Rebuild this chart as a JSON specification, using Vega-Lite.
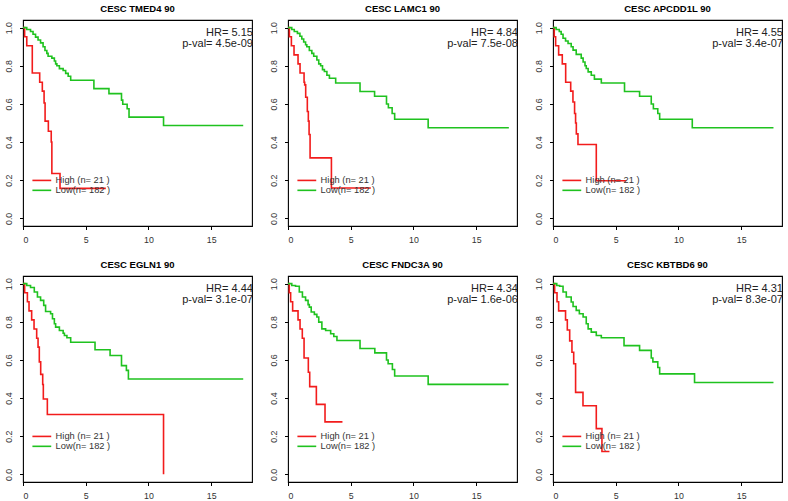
{
  "$schema": "https://vega.github.io/schema/vega-lite/v6.json",
  "padding": {"left": 3, "top": 2, "right": 0, "bottom": 0},
  "bounds": "flush",
  "columns": 3,
  "spacing": {"column": 36, "row": 50},
  "datasets": {
    "km": [
      {"panel": "CESC TMED4 90", "group": "High", "t": 0, "s": 1},
      {"panel": "CESC TMED4 90", "group": "High", "t": 0.13, "s": 0.952},
      {"panel": "CESC TMED4 90", "group": "High", "t": 0.3, "s": 0.905},
      {"panel": "CESC TMED4 90", "group": "High", "t": 0.74, "s": 0.762},
      {"panel": "CESC TMED4 90", "group": "High", "t": 1.33, "s": 0.714},
      {"panel": "CESC TMED4 90", "group": "High", "t": 1.54, "s": 0.667},
      {"panel": "CESC TMED4 90", "group": "High", "t": 1.68, "s": 0.605},
      {"panel": "CESC TMED4 90", "group": "High", "t": 1.76, "s": 0.51},
      {"panel": "CESC TMED4 90", "group": "High", "t": 2.02, "s": 0.457},
      {"panel": "CESC TMED4 90", "group": "High", "t": 2.25, "s": 0.4},
      {"panel": "CESC TMED4 90", "group": "High", "t": 2.3, "s": 0.235},
      {"panel": "CESC TMED4 90", "group": "High", "t": 2.95, "s": 0.157},
      {"panel": "CESC TMED4 90", "group": "High", "t": 6.6, "s": 0.157},
      {"panel": "CESC TMED4 90", "group": "Low", "t": 0, "s": 1},
      {"panel": "CESC TMED4 90", "group": "Low", "t": 0.3, "s": 0.99},
      {"panel": "CESC TMED4 90", "group": "Low", "t": 0.6, "s": 0.98},
      {"panel": "CESC TMED4 90", "group": "Low", "t": 0.8, "s": 0.965},
      {"panel": "CESC TMED4 90", "group": "Low", "t": 1.0, "s": 0.95},
      {"panel": "CESC TMED4 90", "group": "Low", "t": 1.2, "s": 0.935},
      {"panel": "CESC TMED4 90", "group": "Low", "t": 1.4, "s": 0.92},
      {"panel": "CESC TMED4 90", "group": "Low", "t": 1.6, "s": 0.9},
      {"panel": "CESC TMED4 90", "group": "Low", "t": 1.75, "s": 0.88},
      {"panel": "CESC TMED4 90", "group": "Low", "t": 1.9, "s": 0.865},
      {"panel": "CESC TMED4 90", "group": "Low", "t": 2.0, "s": 0.85},
      {"panel": "CESC TMED4 90", "group": "Low", "t": 2.3, "s": 0.84},
      {"panel": "CESC TMED4 90", "group": "Low", "t": 2.5, "s": 0.825},
      {"panel": "CESC TMED4 90", "group": "Low", "t": 2.6, "s": 0.81},
      {"panel": "CESC TMED4 90", "group": "Low", "t": 2.7, "s": 0.8},
      {"panel": "CESC TMED4 90", "group": "Low", "t": 2.9, "s": 0.785},
      {"panel": "CESC TMED4 90", "group": "Low", "t": 3.2, "s": 0.775},
      {"panel": "CESC TMED4 90", "group": "Low", "t": 3.4, "s": 0.76},
      {"panel": "CESC TMED4 90", "group": "Low", "t": 3.6, "s": 0.745},
      {"panel": "CESC TMED4 90", "group": "Low", "t": 3.8, "s": 0.724},
      {"panel": "CESC TMED4 90", "group": "Low", "t": 5.65, "s": 0.68},
      {"panel": "CESC TMED4 90", "group": "Low", "t": 6.85, "s": 0.654},
      {"panel": "CESC TMED4 90", "group": "Low", "t": 7.85, "s": 0.62},
      {"panel": "CESC TMED4 90", "group": "Low", "t": 7.95, "s": 0.598},
      {"panel": "CESC TMED4 90", "group": "Low", "t": 8.3, "s": 0.575},
      {"panel": "CESC TMED4 90", "group": "Low", "t": 8.45, "s": 0.531},
      {"panel": "CESC TMED4 90", "group": "Low", "t": 11.2, "s": 0.487},
      {"panel": "CESC TMED4 90", "group": "Low", "t": 17.55, "s": 0.487},

      {"panel": "CESC LAMC1 90", "group": "High", "t": 0, "s": 1},
      {"panel": "CESC LAMC1 90", "group": "High", "t": 0.11, "s": 0.952},
      {"panel": "CESC LAMC1 90", "group": "High", "t": 0.27, "s": 0.905},
      {"panel": "CESC LAMC1 90", "group": "High", "t": 0.48, "s": 0.857},
      {"panel": "CESC LAMC1 90", "group": "High", "t": 0.8, "s": 0.81},
      {"panel": "CESC LAMC1 90", "group": "High", "t": 0.96, "s": 0.762},
      {"panel": "CESC LAMC1 90", "group": "High", "t": 1.28, "s": 0.714},
      {"panel": "CESC LAMC1 90", "group": "High", "t": 1.33, "s": 0.7},
      {"panel": "CESC LAMC1 90", "group": "High", "t": 1.41, "s": 0.635},
      {"panel": "CESC LAMC1 90", "group": "High", "t": 1.54, "s": 0.56},
      {"panel": "CESC LAMC1 90", "group": "High", "t": 1.62, "s": 0.51},
      {"panel": "CESC LAMC1 90", "group": "High", "t": 1.68, "s": 0.44},
      {"panel": "CESC LAMC1 90", "group": "High", "t": 1.76, "s": 0.317},
      {"panel": "CESC LAMC1 90", "group": "High", "t": 3.46, "s": 0.159},
      {"panel": "CESC LAMC1 90", "group": "High", "t": 6.6, "s": 0.159},
      {"panel": "CESC LAMC1 90", "group": "Low", "t": 0, "s": 1},
      {"panel": "CESC LAMC1 90", "group": "Low", "t": 0.3, "s": 0.99},
      {"panel": "CESC LAMC1 90", "group": "Low", "t": 0.5, "s": 0.98},
      {"panel": "CESC LAMC1 90", "group": "Low", "t": 0.75, "s": 0.97},
      {"panel": "CESC LAMC1 90", "group": "Low", "t": 0.95, "s": 0.955},
      {"panel": "CESC LAMC1 90", "group": "Low", "t": 1.1, "s": 0.94},
      {"panel": "CESC LAMC1 90", "group": "Low", "t": 1.25, "s": 0.925},
      {"panel": "CESC LAMC1 90", "group": "Low", "t": 1.4, "s": 0.91},
      {"panel": "CESC LAMC1 90", "group": "Low", "t": 1.5, "s": 0.9},
      {"panel": "CESC LAMC1 90", "group": "Low", "t": 1.7, "s": 0.88},
      {"panel": "CESC LAMC1 90", "group": "Low", "t": 1.9, "s": 0.865},
      {"panel": "CESC LAMC1 90", "group": "Low", "t": 2.05, "s": 0.85},
      {"panel": "CESC LAMC1 90", "group": "Low", "t": 2.3, "s": 0.83},
      {"panel": "CESC LAMC1 90", "group": "Low", "t": 2.45, "s": 0.81},
      {"panel": "CESC LAMC1 90", "group": "Low", "t": 2.6, "s": 0.8},
      {"panel": "CESC LAMC1 90", "group": "Low", "t": 2.75, "s": 0.78},
      {"panel": "CESC LAMC1 90", "group": "Low", "t": 2.9, "s": 0.77},
      {"panel": "CESC LAMC1 90", "group": "Low", "t": 3.1, "s": 0.75},
      {"panel": "CESC LAMC1 90", "group": "Low", "t": 3.3, "s": 0.735},
      {"panel": "CESC LAMC1 90", "group": "Low", "t": 3.8, "s": 0.71},
      {"panel": "CESC LAMC1 90", "group": "Low", "t": 5.74, "s": 0.665},
      {"panel": "CESC LAMC1 90", "group": "Low", "t": 6.9, "s": 0.64},
      {"panel": "CESC LAMC1 90", "group": "Low", "t": 7.85, "s": 0.6},
      {"panel": "CESC LAMC1 90", "group": "Low", "t": 8.0, "s": 0.58},
      {"panel": "CESC LAMC1 90", "group": "Low", "t": 8.3, "s": 0.55},
      {"panel": "CESC LAMC1 90", "group": "Low", "t": 8.5, "s": 0.52},
      {"panel": "CESC LAMC1 90", "group": "Low", "t": 11.17, "s": 0.475},
      {"panel": "CESC LAMC1 90", "group": "Low", "t": 17.6, "s": 0.475},

      {"panel": "CESC APCDD1L 90", "group": "High", "t": 0, "s": 1},
      {"panel": "CESC APCDD1L 90", "group": "High", "t": 0.1, "s": 0.952},
      {"panel": "CESC APCDD1L 90", "group": "High", "t": 0.21, "s": 0.905},
      {"panel": "CESC APCDD1L 90", "group": "High", "t": 0.45, "s": 0.857},
      {"panel": "CESC APCDD1L 90", "group": "High", "t": 0.74, "s": 0.81},
      {"panel": "CESC APCDD1L 90", "group": "High", "t": 1.01, "s": 0.714},
      {"panel": "CESC APCDD1L 90", "group": "High", "t": 1.41, "s": 0.667},
      {"panel": "CESC APCDD1L 90", "group": "High", "t": 1.59, "s": 0.61},
      {"panel": "CESC APCDD1L 90", "group": "High", "t": 1.72, "s": 0.55},
      {"panel": "CESC APCDD1L 90", "group": "High", "t": 1.8, "s": 0.5},
      {"panel": "CESC APCDD1L 90", "group": "High", "t": 1.86, "s": 0.443},
      {"panel": "CESC APCDD1L 90", "group": "High", "t": 1.99, "s": 0.387},
      {"panel": "CESC APCDD1L 90", "group": "High", "t": 3.45, "s": 0.197},
      {"panel": "CESC APCDD1L 90", "group": "High", "t": 5.84, "s": 0.197},
      {"panel": "CESC APCDD1L 90", "group": "Low", "t": 0, "s": 1},
      {"panel": "CESC APCDD1L 90", "group": "Low", "t": 0.25, "s": 0.99},
      {"panel": "CESC APCDD1L 90", "group": "Low", "t": 0.5, "s": 0.98},
      {"panel": "CESC APCDD1L 90", "group": "Low", "t": 0.65, "s": 0.965},
      {"panel": "CESC APCDD1L 90", "group": "Low", "t": 0.8, "s": 0.944},
      {"panel": "CESC APCDD1L 90", "group": "Low", "t": 1.0, "s": 0.93},
      {"panel": "CESC APCDD1L 90", "group": "Low", "t": 1.2, "s": 0.917},
      {"panel": "CESC APCDD1L 90", "group": "Low", "t": 1.45, "s": 0.9},
      {"panel": "CESC APCDD1L 90", "group": "Low", "t": 1.6, "s": 0.882},
      {"panel": "CESC APCDD1L 90", "group": "Low", "t": 1.85, "s": 0.86},
      {"panel": "CESC APCDD1L 90", "group": "Low", "t": 2.25, "s": 0.84},
      {"panel": "CESC APCDD1L 90", "group": "Low", "t": 2.4, "s": 0.82},
      {"panel": "CESC APCDD1L 90", "group": "Low", "t": 2.55, "s": 0.8},
      {"panel": "CESC APCDD1L 90", "group": "Low", "t": 2.65, "s": 0.786},
      {"panel": "CESC APCDD1L 90", "group": "Low", "t": 2.8, "s": 0.768},
      {"panel": "CESC APCDD1L 90", "group": "Low", "t": 3.05, "s": 0.75},
      {"panel": "CESC APCDD1L 90", "group": "Low", "t": 3.3, "s": 0.73},
      {"panel": "CESC APCDD1L 90", "group": "Low", "t": 3.85, "s": 0.71},
      {"panel": "CESC APCDD1L 90", "group": "Low", "t": 5.7, "s": 0.665},
      {"panel": "CESC APCDD1L 90", "group": "Low", "t": 6.9, "s": 0.64},
      {"panel": "CESC APCDD1L 90", "group": "Low", "t": 7.83, "s": 0.6},
      {"panel": "CESC APCDD1L 90", "group": "Low", "t": 8.0, "s": 0.575},
      {"panel": "CESC APCDD1L 90", "group": "Low", "t": 8.35, "s": 0.55},
      {"panel": "CESC APCDD1L 90", "group": "Low", "t": 8.5, "s": 0.52},
      {"panel": "CESC APCDD1L 90", "group": "Low", "t": 11.1, "s": 0.475},
      {"panel": "CESC APCDD1L 90", "group": "Low", "t": 17.57, "s": 0.475},

      {"panel": "CESC EGLN1 90", "group": "High", "t": 0, "s": 1},
      {"panel": "CESC EGLN1 90", "group": "High", "t": 0.13, "s": 0.952},
      {"panel": "CESC EGLN1 90", "group": "High", "t": 0.35, "s": 0.905},
      {"panel": "CESC EGLN1 90", "group": "High", "t": 0.48, "s": 0.857},
      {"panel": "CESC EGLN1 90", "group": "High", "t": 0.69, "s": 0.81},
      {"panel": "CESC EGLN1 90", "group": "High", "t": 0.88, "s": 0.762},
      {"panel": "CESC EGLN1 90", "group": "High", "t": 1.09, "s": 0.714},
      {"panel": "CESC EGLN1 90", "group": "High", "t": 1.2, "s": 0.667},
      {"panel": "CESC EGLN1 90", "group": "High", "t": 1.3, "s": 0.59},
      {"panel": "CESC EGLN1 90", "group": "High", "t": 1.41, "s": 0.524},
      {"panel": "CESC EGLN1 90", "group": "High", "t": 1.57, "s": 0.471},
      {"panel": "CESC EGLN1 90", "group": "High", "t": 1.62, "s": 0.395},
      {"panel": "CESC EGLN1 90", "group": "High", "t": 1.94, "s": 0.314},
      {"panel": "CESC EGLN1 90", "group": "High", "t": 11.2, "s": 0.0},
      {"panel": "CESC EGLN1 90", "group": "Low", "t": 0, "s": 1},
      {"panel": "CESC EGLN1 90", "group": "Low", "t": 0.3, "s": 0.99},
      {"panel": "CESC EGLN1 90", "group": "Low", "t": 0.6, "s": 0.98},
      {"panel": "CESC EGLN1 90", "group": "Low", "t": 0.9, "s": 0.956},
      {"panel": "CESC EGLN1 90", "group": "Low", "t": 1.15, "s": 0.93},
      {"panel": "CESC EGLN1 90", "group": "Low", "t": 1.4, "s": 0.912},
      {"panel": "CESC EGLN1 90", "group": "Low", "t": 1.65, "s": 0.886},
      {"panel": "CESC EGLN1 90", "group": "Low", "t": 1.8, "s": 0.854},
      {"panel": "CESC EGLN1 90", "group": "Low", "t": 2.2, "s": 0.842},
      {"panel": "CESC EGLN1 90", "group": "Low", "t": 2.35, "s": 0.816},
      {"panel": "CESC EGLN1 90", "group": "Low", "t": 2.5, "s": 0.79},
      {"panel": "CESC EGLN1 90", "group": "Low", "t": 2.6, "s": 0.772},
      {"panel": "CESC EGLN1 90", "group": "Low", "t": 2.9, "s": 0.754},
      {"panel": "CESC EGLN1 90", "group": "Low", "t": 3.2, "s": 0.74},
      {"panel": "CESC EGLN1 90", "group": "Low", "t": 3.3, "s": 0.728},
      {"panel": "CESC EGLN1 90", "group": "Low", "t": 3.5, "s": 0.716},
      {"panel": "CESC EGLN1 90", "group": "Low", "t": 3.8, "s": 0.693},
      {"panel": "CESC EGLN1 90", "group": "Low", "t": 5.74, "s": 0.653},
      {"panel": "CESC EGLN1 90", "group": "Low", "t": 6.94, "s": 0.623},
      {"panel": "CESC EGLN1 90", "group": "Low", "t": 7.85, "s": 0.57},
      {"panel": "CESC EGLN1 90", "group": "Low", "t": 8.24, "s": 0.545},
      {"panel": "CESC EGLN1 90", "group": "Low", "t": 8.4, "s": 0.5},
      {"panel": "CESC EGLN1 90", "group": "Low", "t": 17.55, "s": 0.5},

      {"panel": "CESC FNDC3A 90", "group": "High", "t": 0, "s": 1},
      {"panel": "CESC FNDC3A 90", "group": "High", "t": 0.1, "s": 0.952},
      {"panel": "CESC FNDC3A 90", "group": "High", "t": 0.21, "s": 0.905},
      {"panel": "CESC FNDC3A 90", "group": "High", "t": 0.37, "s": 0.857},
      {"panel": "CESC FNDC3A 90", "group": "High", "t": 0.8, "s": 0.81},
      {"panel": "CESC FNDC3A 90", "group": "High", "t": 0.96, "s": 0.762},
      {"panel": "CESC FNDC3A 90", "group": "High", "t": 1.14, "s": 0.714},
      {"panel": "CESC FNDC3A 90", "group": "High", "t": 1.28, "s": 0.61},
      {"panel": "CESC FNDC3A 90", "group": "High", "t": 1.62, "s": 0.535},
      {"panel": "CESC FNDC3A 90", "group": "High", "t": 1.73, "s": 0.46},
      {"panel": "CESC FNDC3A 90", "group": "High", "t": 2.26, "s": 0.367},
      {"panel": "CESC FNDC3A 90", "group": "High", "t": 2.95, "s": 0.275},
      {"panel": "CESC FNDC3A 90", "group": "High", "t": 4.34, "s": 0.275},
      {"panel": "CESC FNDC3A 90", "group": "Low", "t": 0, "s": 1},
      {"panel": "CESC FNDC3A 90", "group": "Low", "t": 0.3, "s": 0.99},
      {"panel": "CESC FNDC3A 90", "group": "Low", "t": 0.6, "s": 0.986},
      {"panel": "CESC FNDC3A 90", "group": "Low", "t": 0.9, "s": 0.956},
      {"panel": "CESC FNDC3A 90", "group": "Low", "t": 1.15, "s": 0.93},
      {"panel": "CESC FNDC3A 90", "group": "Low", "t": 1.4, "s": 0.912},
      {"panel": "CESC FNDC3A 90", "group": "Low", "t": 1.6, "s": 0.89},
      {"panel": "CESC FNDC3A 90", "group": "Low", "t": 1.7, "s": 0.877},
      {"panel": "CESC FNDC3A 90", "group": "Low", "t": 1.85, "s": 0.851},
      {"panel": "CESC FNDC3A 90", "group": "Low", "t": 2.1, "s": 0.839},
      {"panel": "CESC FNDC3A 90", "group": "Low", "t": 2.3, "s": 0.825},
      {"panel": "CESC FNDC3A 90", "group": "Low", "t": 2.45, "s": 0.798},
      {"panel": "CESC FNDC3A 90", "group": "Low", "t": 2.7, "s": 0.763},
      {"panel": "CESC FNDC3A 90", "group": "Low", "t": 3.0, "s": 0.754},
      {"panel": "CESC FNDC3A 90", "group": "Low", "t": 3.4, "s": 0.737},
      {"panel": "CESC FNDC3A 90", "group": "Low", "t": 3.65, "s": 0.723},
      {"panel": "CESC FNDC3A 90", "group": "Low", "t": 3.9, "s": 0.702},
      {"panel": "CESC FNDC3A 90", "group": "Low", "t": 5.74, "s": 0.66},
      {"panel": "CESC FNDC3A 90", "group": "Low", "t": 6.92, "s": 0.637},
      {"panel": "CESC FNDC3A 90", "group": "Low", "t": 7.85, "s": 0.6},
      {"panel": "CESC FNDC3A 90", "group": "Low", "t": 7.98, "s": 0.58},
      {"panel": "CESC FNDC3A 90", "group": "Low", "t": 8.32, "s": 0.55},
      {"panel": "CESC FNDC3A 90", "group": "Low", "t": 8.5, "s": 0.516},
      {"panel": "CESC FNDC3A 90", "group": "Low", "t": 11.17, "s": 0.472},
      {"panel": "CESC FNDC3A 90", "group": "Low", "t": 17.58, "s": 0.472},

      {"panel": "CESC KBTBD6 90", "group": "High", "t": 0, "s": 1},
      {"panel": "CESC KBTBD6 90", "group": "High", "t": 0.13, "s": 0.952},
      {"panel": "CESC KBTBD6 90", "group": "High", "t": 0.32, "s": 0.905},
      {"panel": "CESC KBTBD6 90", "group": "High", "t": 0.45, "s": 0.857},
      {"panel": "CESC KBTBD6 90", "group": "High", "t": 1.0, "s": 0.81},
      {"panel": "CESC KBTBD6 90", "group": "High", "t": 1.14, "s": 0.757},
      {"panel": "CESC KBTBD6 90", "group": "High", "t": 1.33, "s": 0.7},
      {"panel": "CESC KBTBD6 90", "group": "High", "t": 1.51, "s": 0.64},
      {"panel": "CESC KBTBD6 90", "group": "High", "t": 1.65, "s": 0.58},
      {"panel": "CESC KBTBD6 90", "group": "High", "t": 1.8, "s": 0.43},
      {"panel": "CESC KBTBD6 90", "group": "High", "t": 2.39, "s": 0.36},
      {"panel": "CESC KBTBD6 90", "group": "High", "t": 3.45, "s": 0.24},
      {"panel": "CESC KBTBD6 90", "group": "High", "t": 3.9, "s": 0.12},
      {"panel": "CESC KBTBD6 90", "group": "High", "t": 4.5, "s": 0.12},
      {"panel": "CESC KBTBD6 90", "group": "Low", "t": 0, "s": 1},
      {"panel": "CESC KBTBD6 90", "group": "Low", "t": 0.3, "s": 0.99},
      {"panel": "CESC KBTBD6 90", "group": "Low", "t": 0.53, "s": 0.986},
      {"panel": "CESC KBTBD6 90", "group": "Low", "t": 0.8, "s": 0.956},
      {"panel": "CESC KBTBD6 90", "group": "Low", "t": 1.06, "s": 0.93},
      {"panel": "CESC KBTBD6 90", "group": "Low", "t": 1.45, "s": 0.904},
      {"panel": "CESC KBTBD6 90", "group": "Low", "t": 1.6, "s": 0.88},
      {"panel": "CESC KBTBD6 90", "group": "Low", "t": 1.85, "s": 0.86},
      {"panel": "CESC KBTBD6 90", "group": "Low", "t": 2.1, "s": 0.842},
      {"panel": "CESC KBTBD6 90", "group": "Low", "t": 2.4, "s": 0.825},
      {"panel": "CESC KBTBD6 90", "group": "Low", "t": 2.65, "s": 0.79},
      {"panel": "CESC KBTBD6 90", "group": "Low", "t": 2.8, "s": 0.763},
      {"panel": "CESC KBTBD6 90", "group": "Low", "t": 3.05, "s": 0.746},
      {"panel": "CESC KBTBD6 90", "group": "Low", "t": 3.45, "s": 0.728},
      {"panel": "CESC KBTBD6 90", "group": "Low", "t": 3.85, "s": 0.716},
      {"panel": "CESC KBTBD6 90", "group": "Low", "t": 5.66, "s": 0.675},
      {"panel": "CESC KBTBD6 90", "group": "Low", "t": 6.9, "s": 0.65},
      {"panel": "CESC KBTBD6 90", "group": "Low", "t": 7.83, "s": 0.61},
      {"panel": "CESC KBTBD6 90", "group": "Low", "t": 7.96, "s": 0.59},
      {"panel": "CESC KBTBD6 90", "group": "Low", "t": 8.35, "s": 0.56},
      {"panel": "CESC KBTBD6 90", "group": "Low", "t": 8.5, "s": 0.527},
      {"panel": "CESC KBTBD6 90", "group": "Low", "t": 11.28, "s": 0.482},
      {"panel": "CESC KBTBD6 90", "group": "Low", "t": 17.57, "s": 0.482}
    ],
    "stats": [
      {"panel": "CESC TMED4 90", "hr": "HR= 5.15", "pval": "p-val= 4.5e-09"},
      {"panel": "CESC LAMC1 90", "hr": "HR= 4.84", "pval": "p-val= 7.5e-08"},
      {"panel": "CESC APCDD1L 90", "hr": "HR= 4.55", "pval": "p-val= 3.4e-07"},
      {"panel": "CESC EGLN1 90", "hr": "HR= 4.44", "pval": "p-val= 3.1e-07"},
      {"panel": "CESC FNDC3A 90", "hr": "HR= 4.34", "pval": "p-val= 1.6e-06"},
      {"panel": "CESC KBTBD6 90", "hr": "HR= 4.31", "pval": "p-val= 8.3e-07"}
    ]
  },
  "data": {"name": "km"},
  "transform": [
    {"lookup": "panel", "from": {"data": {"name": "stats"}, "key": "panel", "fields": ["hr", "pval"]}},
    {"calculate": "datum.group == 'High' ? 'High (n= 21 )' : 'Low(n= 182 )'", "as": "label"}
  ],
  "facet": {
    "field": "panel",
    "type": "nominal",
    "sort": ["CESC TMED4 90", "CESC LAMC1 90", "CESC APCDD1L 90", "CESC EGLN1 90", "CESC FNDC3A 90", "CESC KBTBD6 90"],
    "header": {"title": null, "labelFontSize": 9.5, "labelFontWeight": "bold", "labelPadding": 7, "labelColor": "#000", "labelFont": "Liberation Sans"}
  },
  "resolve": {"axis": {"x": "independent", "y": "independent"}},
  "spec": {
    "width": 229,
    "height": 206,
    "layer": [
      {
        "mark": {"type": "line", "interpolate": "step-after", "strokeWidth": 1.6},
        "encoding": {
          "x": {"field": "t", "type": "quantitative", "scale": {"domain": [0, 18.25], "nice": false, "zero": false}, "axis": {"values": [0, 5, 10, 15], "format": "d", "title": null}},
          "y": {"field": "s", "type": "quantitative", "scale": {"domain": [-0.04, 1.04], "nice": false, "zero": false}, "axis": {"values": [0, 0.2, 0.4, 0.6, 0.8, 1.0], "format": ".1f", "title": null}},
          "color": {"field": "group", "type": "nominal", "scale": {"domain": ["High", "Low"], "range": ["#F21C1C", "#1FC21F"]}, "legend": null},
          "detail": {"field": "group"}
        }
      },
      {
        "transform": [{"filter": "datum.group == 'High' && datum.t == 0"}],
        "mark": {"type": "text", "align": "right", "baseline": "middle", "fontSize": 11, "color": "#222"},
        "encoding": {"x": {"datum": 18.32}, "y": {"datum": 0.973}, "text": {"field": "hr"}}
      },
      {
        "transform": [{"filter": "datum.group == 'High' && datum.t == 0"}],
        "mark": {"type": "text", "align": "right", "baseline": "middle", "fontSize": 11, "color": "#222"},
        "encoding": {"x": {"datum": 18.32}, "y": {"datum": 0.916}, "text": {"field": "pval"}}
      },
      {
        "transform": [{"filter": "datum.group == 'High' && datum.t == 0"}],
        "mark": {"type": "rule", "strokeWidth": 1.6},
        "encoding": {"x": {"datum": 0.75}, "x2": {"datum": 2.25}, "y": {"datum": 0.199}, "color": {"field": "group", "type": "nominal"}}
      },
      {
        "transform": [{"filter": "datum.group == 'High' && datum.t == 0"}],
        "mark": {"type": "text", "align": "left", "baseline": "middle", "fontSize": 9.3, "color": "#333"},
        "encoding": {"x": {"datum": 2.6}, "y": {"datum": 0.199}, "text": {"field": "label"}}
      },
      {
        "transform": [{"filter": "datum.group == 'Low' && datum.t == 0"}],
        "mark": {"type": "rule", "strokeWidth": 1.6},
        "encoding": {"x": {"datum": 0.75}, "x2": {"datum": 2.25}, "y": {"datum": 0.147}, "color": {"field": "group", "type": "nominal"}}
      },
      {
        "transform": [{"filter": "datum.group == 'Low' && datum.t == 0"}],
        "mark": {"type": "text", "align": "left", "baseline": "middle", "fontSize": 9.3, "color": "#333"},
        "encoding": {"x": {"datum": 2.6}, "y": {"datum": 0.147}, "text": {"field": "label"}}
      }
    ]
  },
  "config": {
    "font": "Liberation Sans",
    "view": {"stroke": "#000", "strokeWidth": 1.1},
    "axis": {"domain": false, "grid": false, "ticks": true, "tickColor": "#000", "tickSize": 3.5, "labelFontSize": 8.8, "labelColor": "#333", "labelFont": "Liberation Sans"},
    "axisX": {"labelPadding": 6},
    "axisY": {"labelAngle": 270, "labelAlign": "center", "labelBaseline": "bottom", "labelPadding": 6}
  }
}
